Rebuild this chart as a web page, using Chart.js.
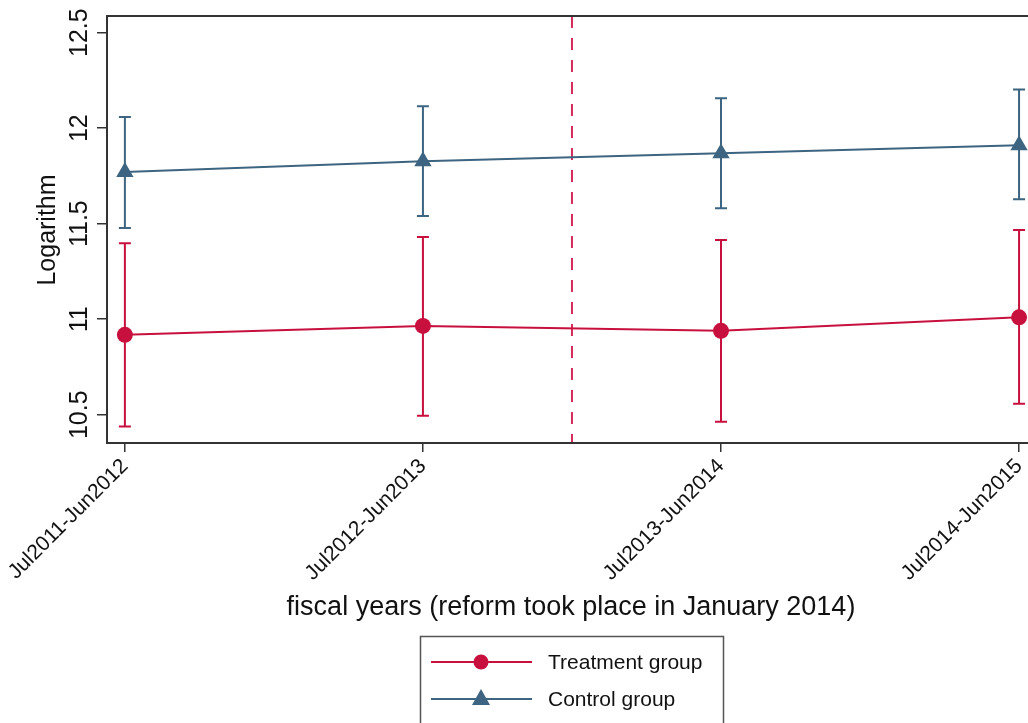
<!DOCTYPE html>
<html>
<head>
<meta charset="utf-8">
<script src="https://cdn.jsdelivr.net/npm/chart.js@4.4.1/dist/chart.umd.min.js"></script>
<style>
  html, body { margin: 0; padding: 0; background: #fff; }
  #wrap { width: 1028px; height: 723px; }
</style>
</head>
<body>
<div id="wrap"><canvas id="myChart" width="1028" height="723"></canvas></div>
<script>
// fiscal years on the x axis
const categories = ['Jul2011-Jun2012', 'Jul2012-Jun2013', 'Jul2013-Jun2014', 'Jul2014-Jun2015'];

// treatment group: mean and confidence interval
const treatMean = [10.918, 10.965, 10.939, 11.010];
const treatLow  = [10.439, 10.495, 10.463, 10.557];
const treatHigh = [11.397, 11.430, 11.414, 11.467];

// control group: mean and confidence interval
const ctrlMean = [11.771, 11.827, 11.869, 11.911];
const ctrlLow  = [11.477, 11.540, 11.581, 11.628];
const ctrlHigh = [12.059, 12.114, 12.156, 12.202];

const yTicks = [10.5, 11, 11.5, 12, 12.5];
const reformAt = 1.5; // between 2nd and 3rd fiscal year

const RED = '#c8103e';
const BLUE = '#3d6480';
const FONT = "'Liberation Sans', Arial, sans-serif";

function toPoints(vals) {
    return vals.map((v, i) => ({ x: i, y: v }));
}

// error bars, the dashed reform line, the frame and the texts
const extras = {
    id: 'extras',
    beforeDatasetsDraw(chart) {
        const { ctx, chartArea, scales: { x, y } } = chart;
        const bars = [[treatLow, treatHigh, RED], [ctrlLow, ctrlHigh, BLUE]];
        ctx.save();
        bars.forEach(([lo, hi, col]) => {
            ctx.strokeStyle = col;
            ctx.lineWidth = 2;
            lo.forEach((l, i) => {
                const px = x.getPixelForValue(i);
                const p1 = y.getPixelForValue(l);
                const p2 = y.getPixelForValue(hi[i]);
                ctx.beginPath();
                ctx.moveTo(px, p1); ctx.lineTo(px, p2);
                ctx.moveTo(px - 6, p1); ctx.lineTo(px + 6, p1);
                ctx.moveTo(px - 6, p2); ctx.lineTo(px + 6, p2);
                ctx.stroke();
            });
        });
        // reform line
        const rx = x.getPixelForValue(reformAt);
        ctx.strokeStyle = '#d42b5a';
        ctx.lineWidth = 2;
        ctx.setLineDash([12, 10]);
        ctx.beginPath();
        ctx.moveTo(rx, chartArea.top);
        ctx.lineTo(rx, chartArea.bottom);
        ctx.stroke();
        ctx.restore();
    },
    afterDraw(chart) {
        const { ctx, chartArea, scales: { x, y } } = chart;
        ctx.save();
        // frame (open on the right, cut by the picture edge)
        ctx.strokeStyle = '#333';
        ctx.lineWidth = 2;
        ctx.beginPath();
        ctx.moveTo(chart.width, chartArea.top);
        ctx.lineTo(chartArea.left, chartArea.top);
        ctx.lineTo(chartArea.left, chartArea.bottom);
        ctx.lineTo(chart.width, chartArea.bottom);
        ctx.stroke();

        // rotated y tick labels
        ctx.fillStyle = '#111';
        ctx.font = '25px ' + FONT;
        ctx.textAlign = 'center';
        ctx.textBaseline = 'middle';
        yTicks.forEach(t => {
            ctx.save();
            ctx.translate(80, y.getPixelForValue(t));
            ctx.rotate(-Math.PI / 2);
            ctx.fillText(String(t), 0, 0);
            ctx.restore();
        });

        // y title
        ctx.save();
        ctx.font = '25px ' + FONT;
        ctx.translate(48, 230);
        ctx.rotate(-Math.PI / 2);
        ctx.fillText('Logarithm', 0, 0);
        ctx.restore();

        // x title
        ctx.font = '27px ' + FONT;
        ctx.fillText('fiscal years (reform took place in January 2014)', 571, 608);

        // legend
        ctx.strokeStyle = '#555';
        ctx.lineWidth = 1.5;
        ctx.strokeRect(420.5, 636.5, 303, 100);
        const items = chart.data.datasets;
        const rows = [662, 699];
        items.forEach((ds, i) => {
            const ly = rows[i];
            ctx.strokeStyle = ds.borderColor;
            ctx.lineWidth = 2;
            ctx.beginPath();
            ctx.moveTo(431, ly); ctx.lineTo(532, ly);
            ctx.stroke();
            ctx.fillStyle = ds.borderColor;
            ctx.beginPath();
            if (ds.pointStyle === 'triangle') {
                ctx.moveTo(481, ly - 10);
                ctx.lineTo(490, ly + 6);
                ctx.lineTo(472, ly + 6);
                ctx.closePath();
            } else {
                ctx.arc(481, ly, 7.5, 0, Math.PI * 2);
            }
            ctx.fill();
            ctx.fillStyle = '#111';
            ctx.font = '21px ' + FONT;
            ctx.textAlign = 'left';
            ctx.fillText(ds.label, 548, ly + 1);
        });
        ctx.restore();
    }
};

const ctx = document.getElementById('myChart').getContext('2d');
const chart = new Chart(ctx, {
    type: 'line',
    data: {
        datasets: [{
            label: 'Treatment group',
            data: toPoints(treatMean),
            borderColor: RED,
            backgroundColor: RED,
            borderWidth: 2,
            pointStyle: 'circle',
            pointRadius: 8,
            pointBorderWidth: 0,
            clip: false
        }, {
            label: 'Control group',
            data: toPoints(ctrlMean),
            borderColor: BLUE,
            backgroundColor: BLUE,
            borderWidth: 2,
            pointStyle: 'triangle',
            pointRadius: 10,
            pointBorderWidth: 0,
            clip: false
        }]
    },
    options: {
        responsive: false,
        animation: false,
        layout: { autoPadding: false, padding: { top: 16, left: 0, right: 0, bottom: 0 } },
        plugins: {
            legend: { display: false },
            tooltip: { enabled: false }
        },
        scales: {
            x: {
                type: 'linear',
                min: -0.06,
                max: 3.03,
                afterBuildTicks: s => { s.ticks = categories.map((_, i) => ({ value: i })); },
                afterFit: s => { s.height = 280; s.paddingLeft = 0; s.paddingRight = 0; },
                border: { display: false },
                grid: { drawOnChartArea: false, drawTicks: true, tickLength: 9, color: '#333', lineWidth: 1.5 },
                ticks: {
                    minRotation: 45,
                    maxRotation: 45,
                    padding: 2,
                    color: '#111',
                    font: { size: 21, family: FONT },
                    callback: v => categories[v]
                }
            },
            y: {
                min: 10.352,
                max: 12.587,
                afterBuildTicks: s => { s.ticks = yTicks.map(v => ({ value: v })); },
                afterFit: s => { s.width = 107; },
                border: { display: false },
                grid: { drawOnChartArea: false, drawTicks: true, tickLength: 10, color: '#333', lineWidth: 1.5 },
                ticks: { display: false }
            }
        }
    },
    plugins: [extras]
});
</script>
</body>
</html>
